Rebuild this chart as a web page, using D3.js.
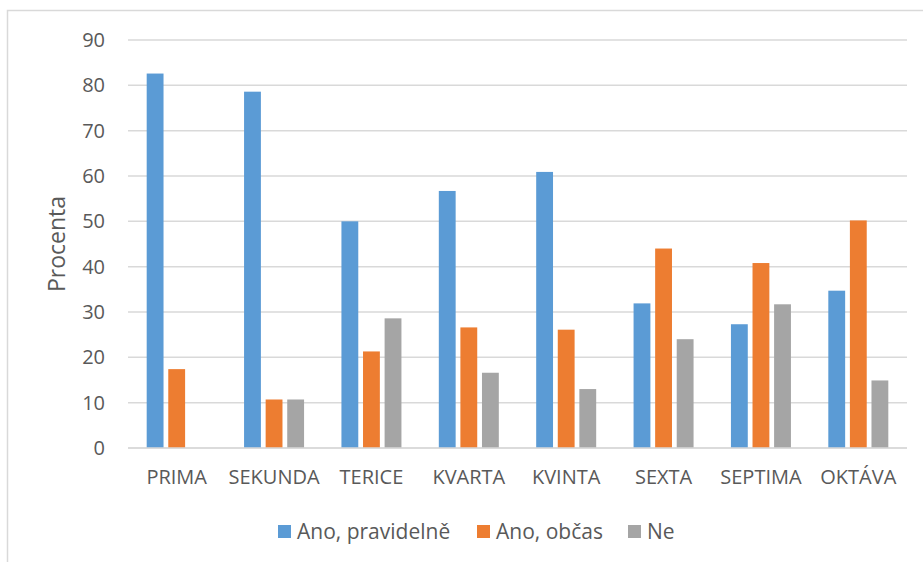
<!DOCTYPE html>
<meta charset="utf-8">
<style>
body { margin: 0; background: #fff; }
text { font-family: "Open Sans", Lato, sans-serif; fill: #595959; }
</style>
<body>
<script src="https://d3js.org/d3.v7.min.js"></script>
<script>
var categories = ["PRIMA", "SEKUNDA", "TERICE", "KVARTA", "KVINTA", "SEXTA", "SEPTIMA", "OKTÁVA"];
var seriesNames = ["Ano, pravidelně", "Ano, občas", "Ne"];
var pravidelne = [82.6, 78.6, 50.0, 56.7, 60.9, 31.9, 27.3, 34.7];
var obcas = [17.4, 10.7, 21.3, 26.6, 26.1, 44.0, 40.8, 50.2];
var ne = [0, 10.7, 28.6, 16.6, 13.0, 24.0, 31.7, 14.9];
var yTicks = [0, 10, 20, 30, 40, 50, 60, 70, 80, 90];
var colors = ["#5b9bd5", "#ed7d31", "#a5a5a5"];

var width = 923, height = 562;
var margin = {left: 128, right: 16, top: 40, bottom: 114};

var svg = d3.select("body").append("svg")
    .attr("width", width)
    .attr("height", height);

// chart border (Excel chart area)
svg.append("path")
    .attr("d", "M7.5,562 V10.5 H923")
    .attr("fill", "none")
    .attr("stroke", "#d9d9d9")
    .attr("stroke-width", 1.5);

var x = d3.scaleBand()
    .domain(categories)
    .range([margin.left, width - margin.right]);

var x1 = d3.scaleBand()
    .domain(seriesNames)
    .range([0, 60])
    .paddingInner(0.22);

var y = d3.scaleLinear()
    .domain([0, 90])
    .range([height - margin.bottom, margin.top]);

// gridlines
svg.append("g")
    .selectAll("line")
    .data(yTicks)
    .enter().append("line")
    .attr("x1", margin.left)
    .attr("x2", width - margin.right)
    .attr("y1", d => y(d))
    .attr("y2", d => y(d))
    .attr("stroke", "#d9d9d9")
    .attr("stroke-width", 1.5);

var yAxis = svg.append("g")
    .attr("transform", "translate(" + margin.left + ",0)")
    .call(d3.axisLeft(y).tickValues(yTicks).tickSize(0).tickPadding(23));
yAxis.select(".domain").remove();
yAxis.selectAll("text").style("font-size", "20px").attr("fill", "#595959");

var series = [pravidelne, obcas, ne];
var g = svg.append("g");
series.forEach(function(vals, i) {
  g.selectAll(".s" + i)
    .data(vals)
    .enter().append("rect")
    .attr("x", (d, j) => x(categories[j]) + x.bandwidth() / 2 - 30 + x1(seriesNames[i]))
    .attr("width", x1.bandwidth())
    .attr("y", d => y(d))
    .attr("height", d => y(0) - y(d))
    .attr("fill", colors[i]);
});

// baseline on top
svg.append("line")
    .attr("x1", margin.left).attr("x2", width - margin.right)
    .attr("y1", y(0)).attr("y2", y(0))
    .attr("stroke", "#d9d9d9").attr("stroke-width", 1.5);

var xAxis = svg.append("g")
    .attr("transform", "translate(0," + y(0) + ")")
    .call(d3.axisBottom(x).tickSize(0).tickPadding(22));
xAxis.select(".domain").remove();
xAxis.selectAll("text").style("font-size", "20px").attr("fill", "#595959");

svg.append("text")
    .attr("transform", "translate(65," + ((y(0) + y(90)) / 2) + ") rotate(-90)")
    .attr("text-anchor", "middle")
    .style("font-size", "23px")
    .text("Procenta");

// legend
var legendX = [278, 477, 628];
var legend = svg.append("g");
seriesNames.forEach(function(name, i) {
  legend.append("rect")
    .attr("x", legendX[i]).attr("y", 525)
    .attr("width", 13).attr("height", 13)
    .attr("fill", colors[i]);
  legend.append("text")
    .attr("x", legendX[i] + 19).attr("y", 539)
    .style("font-size", "21px")
    .text(name);
});
</script>
</body>
</html>
